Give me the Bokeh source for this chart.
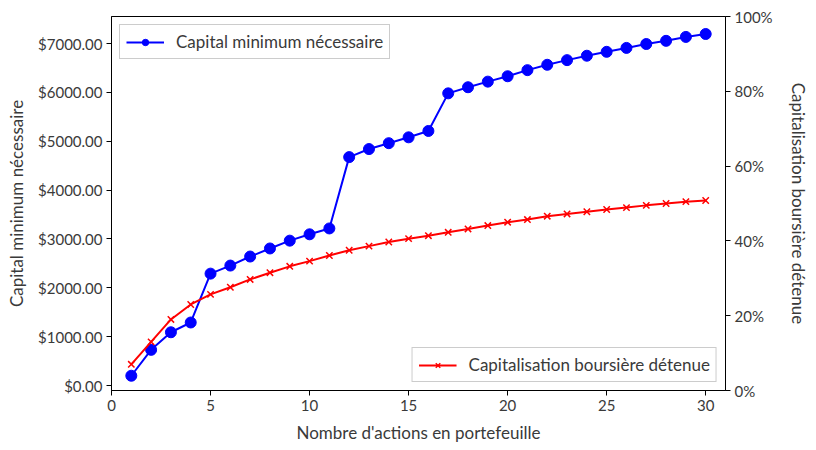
from bokeh.plotting import figure
from bokeh.models import (Range1d, LinearAxis, FixedTicker, PrintfTickFormatter,
                          NumeralTickFormatter, Legend, LegendItem)
from bokeh.embed import file_html
from bokeh.resources import INLINE

n_actions = list(range(1, 31))
capital_min = [200, 730, 1090, 1290, 2290, 2455, 2640, 2805, 2965, 3095, 3215,
               4675, 4840, 4960, 5080, 5210, 5980, 6105, 6220, 6330, 6455, 6565,
               6660, 6750, 6830, 6910, 6990, 7055, 7135, 7195]
cap_detenue = [0.070, 0.130, 0.190, 0.230, 0.257, 0.276, 0.297, 0.315, 0.332,
               0.346, 0.361, 0.375, 0.386, 0.397, 0.406, 0.414, 0.423, 0.432,
               0.441, 0.450, 0.457, 0.466, 0.472, 0.478, 0.484, 0.489, 0.495,
               0.500, 0.505, 0.508]
left_ticks = [0, 1000, 2000, 3000, 4000, 5000, 6000, 7000]
right_ticks = [0, 0.2, 0.4, 0.6, 0.8, 1.0]
x_ticks = [0, 5, 10, 15, 20, 25, 30]

FONT = "Lato"
TXT = "#3a3a3a"

p = figure(frame_width=614, frame_height=374, output_backend="svg",
           toolbar_location=None,
           x_range=Range1d(0, 31), y_range=Range1d(-102, 7553),
           min_border_left=111, min_border_right=10, min_border_top=16,
           min_border_bottom=10)
p.extra_y_ranges = {"pct": Range1d(0, 1)}
p.grid.visible = False
p.outline_line_color = "black"
p.outline_line_alpha = 1.0
p.outline_line_width = 1

# left axis
ya = p.yaxis[0]
ya.ticker = FixedTicker(ticks=left_ticks)
ya.formatter = PrintfTickFormatter(format="$%.2f")
ya.axis_label = "Capital minimum nécessaire"

xa = p.xaxis[0]
xa.ticker = FixedTicker(ticks=x_ticks)
xa.axis_label = "Nombre d'actions en portefeuille"

ra = LinearAxis(y_range_name="pct", ticker=FixedTicker(ticks=right_ticks),
                formatter=NumeralTickFormatter(format="0%"),
                axis_label="Capitalisation boursière détenue")
p.add_layout(ra, "right")

for ax in [ya, xa, ra]:
    ax.major_label_text_font = FONT
    ax.major_label_text_font_size = "15px"
    ax.major_label_text_color = TXT
    ax.axis_label_text_font = FONT
    ax.axis_label_text_font_size = "17px"
    ax.axis_label_text_font_style = "normal"
    ax.axis_label_text_color = TXT
    ax.minor_tick_line_color = None
    ax.major_tick_out = 5
    ax.major_tick_in = 0
    ax.axis_line_color = "black"
    ax.major_tick_line_color = "black"
    ax.axis_label_standoff = 8
    ax.major_label_standoff = 4
ra.axis_label_standoff = 12

l1 = p.line(n_actions, capital_min, line_color="blue", line_width=2)
s1 = p.scatter(n_actions, capital_min, marker="circle", size=11,
               fill_color="blue", line_color="blue")
l2 = p.line(n_actions, cap_detenue, line_color="red", line_width=2,
            y_range_name="pct")
s2 = p.scatter(n_actions, cap_detenue, marker="x", size=9, line_color="red",
               line_width=1.5, y_range_name="pct")

def mk_legend(items, loc):
    lg = Legend(items=items, location=loc)
    lg.label_text_font = FONT
    lg.label_text_font_size = "17px"
    lg.label_text_color = TXT
    lg.border_line_color = "#cccccc"
    lg.border_line_alpha = 1.0
    lg.background_fill_alpha = 0.8
    lg.glyph_width = 38
    lg.glyph_height = 16
    lg.padding = 6
    lg.margin = 8
    lg.spacing = 0
    lg.label_standoff = 12
    return lg

p.add_layout(mk_legend([LegendItem(label="Capital minimum nécessaire",
                                   renderers=[l1, s1])], "top_left"), "center")
p.add_layout(mk_legend([LegendItem(label="Capitalisation boursière détenue",
                                   renderers=[l2, s2])], "bottom_right"), "center")

open("out.html", "w").write(file_html(p, INLINE))
